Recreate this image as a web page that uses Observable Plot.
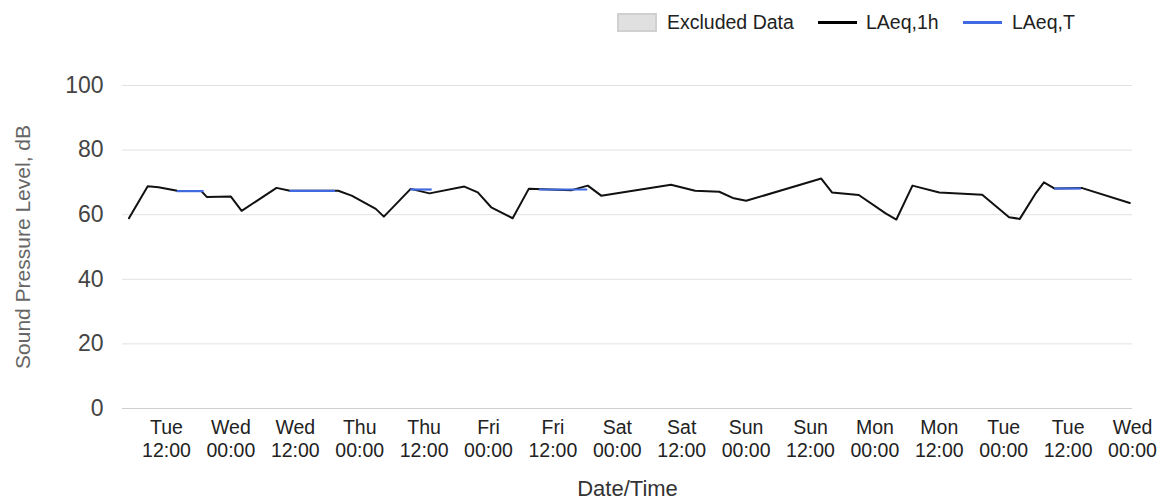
<!DOCTYPE html>
<html><head><meta charset="utf-8">
<script src="https://cdn.jsdelivr.net/npm/d3@7"></script>
<script src="https://cdn.jsdelivr.net/npm/@observablehq/plot@0.6"></script>
<style>
body{margin:0;background:#fff;font-family:"Liberation Sans",Arial,sans-serif;}
#wrap{position:relative;width:1167px;}
#legend{position:relative;height:45px;font-size:19.5px;color:#222;}
#legend .sw{position:absolute;left:617px;top:13px;width:40px;height:19px;box-sizing:border-box;background:#e0e0e0;border:2px solid #d0d0d0;}
#legend .ln{position:absolute;top:21px;height:3px;width:39px;}
#legend .tx{position:absolute;top:11px;line-height:22px;white-space:nowrap;}
</style></head><body>
<div id="wrap">
  <div id="legend">
    <div class="sw"></div><span class="tx" style="left:667px">Excluded Data</span>
    <div class="ln" style="left:818px;background:#000"></div><span class="tx" style="left:866px">LAeq,1h</span>
    <div class="ln" style="left:963px;background:#4169e1"></div><span class="tx" style="left:1012px">LAeq,T</span>
  </div>
  <div id="chart"></div>
</div>
<script>
// LAeq,1h series (time, dB)
const times1h = [
  "2024-01-02T05:00Z","2024-01-02T08:30Z","2024-01-02T10:30Z","2024-01-02T14:00Z","2024-01-02T18:30Z","2024-01-02T19:30Z",
  "2024-01-03T00:00Z","2024-01-03T02:00Z","2024-01-03T08:30Z","2024-01-03T11:00Z","2024-01-03T20:00Z","2024-01-03T22:30Z",
  "2024-01-04T03:00Z","2024-01-04T04:30Z","2024-01-04T09:30Z","2024-01-04T13:00Z","2024-01-04T19:30Z","2024-01-04T22:00Z",
  "2024-01-05T00:30Z","2024-01-05T04:30Z","2024-01-05T07:30Z","2024-01-05T15:30Z","2024-01-05T18:30Z","2024-01-05T21:00Z",
  "2024-01-06T10:00Z","2024-01-06T14:30Z","2024-01-06T19:00Z","2024-01-06T21:30Z",
  "2024-01-07T00:00Z","2024-01-07T14:00Z","2024-01-07T16:00Z","2024-01-07T21:00Z",
  "2024-01-08T02:00Z","2024-01-08T04:00Z","2024-01-08T07:00Z","2024-01-08T12:00Z","2024-01-08T20:00Z",
  "2024-01-09T01:00Z","2024-01-09T03:00Z","2024-01-09T06:00Z","2024-01-09T07:30Z","2024-01-09T09:30Z","2024-01-09T14:30Z","2024-01-09T23:30Z"
];
const levels1h = [
  58.9,68.8,68.5,67.4,67.3,65.5,
  65.6,61.2,68.3,67.4,67.4,65.9,
  61.8,59.4,68.0,66.6,68.7,66.9,
  62.3,58.9,68.0,67.6,69.0,65.9,
  69.3,67.4,67.1,65.2,
  64.3,71.2,66.9,66.1,
  60.4,58.5,69.0,66.9,66.2,
  59.2,58.7,66.7,70.0,68.1,68.3,63.6
];
// LAeq,T periods
const startsT = ["2024-01-02T14:00Z","2024-01-03T11:00Z","2024-01-04T09:30Z","2024-01-05T09:30Z","2024-01-09T09:30Z"];
const endsT   = ["2024-01-02T19:00Z","2024-01-03T19:30Z","2024-01-04T13:30Z","2024-01-05T18:30Z","2024-01-09T14:30Z"];
const levelsT = [67.3,67.4,67.8,67.8,68.1];

const yTicks = [0,20,40,60,80,100];
const xDomain = ["2024-01-02T03:48Z","2024-01-10T00:00Z"];
const yTitle = "Sound Pressure Level, dB";
const xTitle = "Date/Time";

const series1h = times1h.map((t,i)=>({t:new Date(t), v:levels1h[i]}));
const seriesT = startsT.map((s,i)=>({s:new Date(s), e:new Date(endsT[i]), v:levelsT[i]}));
const fmt = d3.utcFormat("%a\n%H:%M");

const chart = Plot.plot({
  width:1167, height:459,
  marginTop:40, marginBottom:96, marginLeft:122, marginRight:35,
  style:{fontFamily:"'Liberation Sans', Arial, sans-serif", background:"#fff"},
  x:{type:"utc", domain:xDomain.map(d=>new Date(d))},
  y:{domain:[0,100]},
  marks:[
    Plot.gridY(yTicks.filter(d=>d>0), {stroke:"#e2e2e2", strokeOpacity:1}),
    Plot.ruleY([0], {stroke:"#cfcfcf"}),
    Plot.axisY(yTicks, {tickSize:0, tickPadding:19, fontSize:23, fill:"#444", label:null}),
    Plot.axisX({ticks:d3.utcHour.every(12), tickFormat:fmt, tickSize:0, tickPadding:9, fontSize:19.5, lineHeight:1.18, fill:"#222", label:null}),
    Plot.line(series1h, {x:"t", y:"v", stroke:"#111", strokeWidth:2}),
    Plot.ruleY(seriesT, {y:"v", x1:"s", x2:"e", stroke:"#4169e1", strokeWidth:2.2}),
    Plot.text([yTitle], {frameAnchor:"left", dx:-99, rotate:-90, textAnchor:"middle", fontSize:21, fill:"#666"}),
    Plot.text([xTitle], {frameAnchor:"bottom", dy:87, fontSize:22, fill:"#333"})
  ]
});
document.getElementById("chart").appendChild(chart);
</script>
</body></html>
